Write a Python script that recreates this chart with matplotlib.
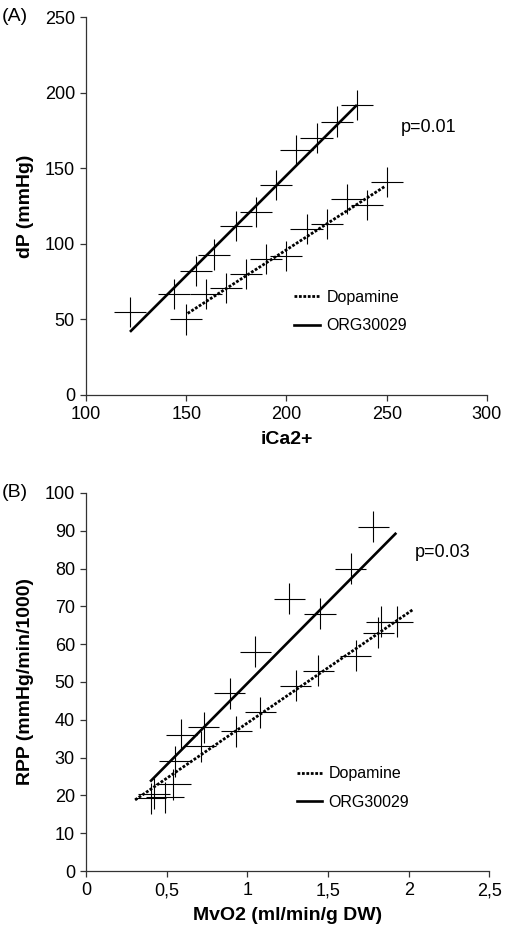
import matplotlib.pyplot as plt
import numpy as np

plt.rcParams['font.family'] = ['Liberation Sans', 'DejaVu Sans']

# panel A: dP vs iCa2+
a_dop_x = [150, 160, 170, 180, 190, 200, 210, 220, 230, 240, 250]
a_dop_y = [50, 67, 71, 80, 90, 92, 110, 113, 130, 126, 141]
a_org_x = [122, 144, 155, 164, 175, 185, 195, 205, 215, 225, 235]
a_org_y = [55, 67, 82, 93, 112, 121, 139, 162, 170, 181, 192]
a_xerr = [8] * 11
a_yerr = [10] * 11
# trend lines (end points)
a_dop_fit_x = [150.7, 249]
a_dop_fit_y = [54, 138]
a_org_fit_x = [122.4, 234.7]
a_org_fit_y = [42.4, 191.4]

# panel B: RPP vs MvO2
b_dop_x = [0.42, 0.49, 0.71, 0.93, 1.08, 1.30, 1.44, 1.67, 1.81, 1.83, 1.93]
b_dop_y = [20.5, 19.5, 33, 37, 42, 49, 53, 57, 63, 66, 66]
b_org_x = [0.40, 0.54, 0.55, 0.59, 0.73, 0.89, 1.05, 1.26, 1.45, 1.64, 1.78]
b_org_y = [19.3, 23, 29, 36, 38, 47, 58, 72, 68, 80, 91]
b_dop_xerr = [0.098, 0.12, 0.096, 0.096, 0.096, 0.096, 0.098, 0.098, 0.096, 0.096, 0.096]
b_org_xerr = [0.098, 0.11, 0.096, 0.096, 0.096, 0.096, 0.096, 0.096, 0.099, 0.095, 0.096]
b_yerr = [4.1] * 11
b_dop_fit_x = [0.304, 2.024]
b_dop_fit_y = [18.8, 69.1]
b_org_fit_x = [0.403, 1.917]
b_org_fit_y = [23.9, 89.2]

dotted = (0, (1, 0.6))

fig = plt.figure(figsize=(5.12, 9.44), dpi=100)
axA = fig.add_axes([0.168, 0.5816, 0.783, 0.400])
axB = fig.add_axes([0.168, 0.0773, 0.788, 0.4005])


def style(ax):
    for s in ['top', 'right']:
        ax.spines[s].set_visible(False)
    for s in ['left', 'bottom']:
        ax.spines[s].set_color('#333333')
        ax.spines[s].set_linewidth(0.9)
    ax.tick_params(direction='out', length=4, width=0.9, color='#333333',
                   labelsize=13, pad=4)


# --- A ---
axA.errorbar(a_dop_x, a_dop_y, xerr=a_xerr, yerr=a_yerr, fmt='none',
             ecolor='black', elinewidth=0.8, capsize=0)
axA.errorbar(a_org_x, a_org_y, xerr=a_xerr, yerr=a_yerr, fmt='none',
             ecolor='black', elinewidth=0.8, capsize=0)
axA.plot(a_dop_fit_x, a_dop_fit_y, color='black', lw=2.0, linestyle=dotted,
         label='Dopamine')
axA.plot(a_org_fit_x, a_org_fit_y, color='black', lw=1.9, label='ORG30029')
axA.set_xlim(100, 300)
axA.set_ylim(0, 250)
axA.set_xticks([100, 150, 200, 250, 300])
axA.set_yticks([0, 50, 100, 150, 200, 250])
style(axA)
axA.set_xlabel('iCa2+', fontsize=14, fontweight='bold', labelpad=6)
axA.set_ylabel('dP (mmHg)', fontsize=14, fontweight='bold', labelpad=8)
axA.text(257, 177, 'p=0.01', fontsize=13, va='center', ha='left')
axA.legend(loc='upper left', bbox_to_anchor=(0.52, 0.279), frameon=False,
           fontsize=11.5, handlelength=1.6, handletextpad=0.4,
           labelspacing=0.85, borderpad=0, borderaxespad=0)
fig.text(0.004, 0.982, '(A)', fontsize=14, va='center', ha='left')

# --- B ---
axB.errorbar(b_dop_x, b_dop_y, xerr=b_dop_xerr, yerr=b_yerr, fmt='none',
             ecolor='black', elinewidth=0.8, capsize=0)
axB.errorbar(b_org_x, b_org_y, xerr=b_org_xerr, yerr=b_yerr, fmt='none',
             ecolor='black', elinewidth=0.8, capsize=0)
axB.plot(b_dop_fit_x, b_dop_fit_y, color='black', lw=2.0, linestyle=dotted,
         label='Dopamine')
axB.plot(b_org_fit_x, b_org_fit_y, color='black', lw=1.9, label='ORG30029')
axB.set_xlim(0, 2.5)
axB.set_ylim(0, 100)
axB.set_xticks([0, 0.5, 1, 1.5, 2, 2.5])
axB.set_xticklabels(['0', '0,5', '1', '1,5', '2', '2,5'])
axB.set_yticks(np.arange(0, 101, 10))
style(axB)
axB.set_xlabel('MvO2 (ml/min/g DW)', fontsize=14, fontweight='bold', labelpad=6)
axB.set_ylabel('RPP (mmHg/min/1000)', fontsize=14, fontweight='bold', labelpad=8)
axB.text(2.04, 84.2, 'p=0.03', fontsize=13, va='center', ha='left')
axB.legend(loc='upper left', bbox_to_anchor=(0.522, 0.277), frameon=False,
           fontsize=11.5, handlelength=1.6, handletextpad=0.4,
           labelspacing=0.85, borderpad=0, borderaxespad=0)
fig.text(0.004, 0.4778, '(B)', fontsize=14, va='center', ha='left')

fig.savefig('out.png', dpi=100)
